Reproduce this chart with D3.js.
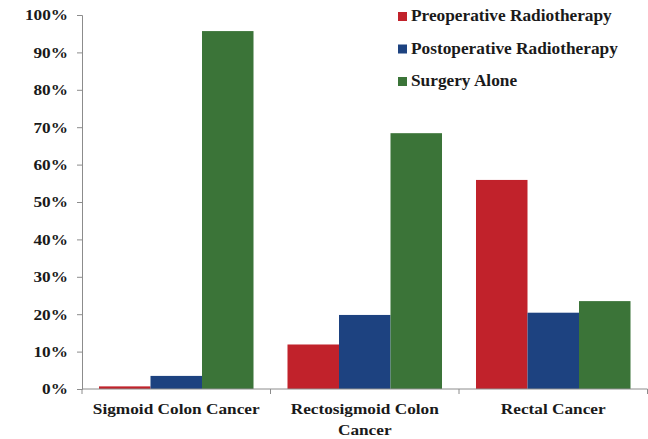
<!DOCTYPE html>
<html>
<head>
<meta charset="utf-8">
<script src="https://cdn.jsdelivr.net/npm/d3@7"></script>
<style>
  html, body { margin: 0; padding: 0; background: #fff; }
  svg { display: block; }
</style>
</head>
<body>
<svg id="chart" width="648" height="439"></svg>
<script>
// Share of patients by treatment approach, per tumour site
const categories = ["Sigmoid Colon Cancer", "Rectosigmoid Colon Cancer", "Rectal Cancer"];
const categoryLines = [["Sigmoid Colon Cancer"], ["Rectosigmoid Colon", "Cancer"], ["Rectal Cancer"]];
const seriesNames = ["Preoperative Radiotherapy", "Postoperative Radiotherapy", "Surgery Alone"];
const preoperative = [0.7, 11.9, 55.9];
const postoperative = [3.5, 19.8, 20.4];
const surgeryAlone = [95.7, 68.4, 23.5];
const yTicks = [0, 10, 20, 30, 40, 50, 60, 70, 80, 90, 100];
const colors = ["#C1222B", "#1D4280", "#3B7438"];

const seriesValues = [preoperative, postoperative, surgeryAlone];
const FONT = "'Liberation Serif', 'Times New Roman', Tinos, serif";
const TEXT_COLOR = "#1a1a1a";
const AXIS_COLOR = "#8c8c8c";

// Bold serif text, slightly widened horizontally
function styleText(sel, size, stretch) {
  sel.style("font-family", FONT)
    .style("font-weight", "bold")
    .style("font-size", size + "px")
    .attr("fill", TEXT_COLOR);
  sel.each(function () {
    const w = this.getComputedTextLength();
    if (w > 0) {
      d3.select(this).attr("textLength", w * stretch).attr("lengthAdjust", "spacingAndGlyphs");
    }
  });
}

const svg = d3.select("#chart");
const margin = { left: 82, top: 15, right: 0.5 };
const plotW = 648 - margin.left - margin.right;
const plotH = 389 - margin.top;

const g = svg.append("g").attr("transform", `translate(${margin.left},${margin.top})`);

const x0 = d3.scaleBand().domain(categories).range([0, plotW]).paddingInner(0).paddingOuter(0);
const x1 = d3.scaleBand().domain(seriesNames).range([0, x0.bandwidth()]).paddingInner(0).paddingOuter(0.33);
const y = d3.scaleLinear().domain([0, 100]).range([plotH, 0]);

// Bars
categories.forEach((cat, ci) => {
  const grp = g.append("g").attr("transform", `translate(${x0(cat)},0)`);
  seriesNames.forEach((s, si) => {
    const v = seriesValues[si][ci];
    grp.append("rect")
      .attr("x", x1(s))
      .attr("y", y(v))
      .attr("width", x1.bandwidth())
      .attr("height", y(0) - y(v))
      .attr("fill", colors[si]);
  });
});

// Y axis
const yAxis = d3.axisLeft(y).tickValues(yTicks).tickFormat(d => d + "%").tickSize(5).tickPadding(9);
const yg = g.append("g").call(yAxis);
yg.select(".domain").attr("stroke", AXIS_COLOR);
yg.selectAll(".tick line").attr("stroke", AXIS_COLOR);
yg.selectAll(".tick text").call(styleText, 15, 1.15);

// X axis baseline with category dividers
const xg = g.append("g").attr("transform", `translate(0,${plotH})`);
xg.append("line").attr("x1", 0).attr("x2", plotW).attr("y1", 0).attr("y2", 0).attr("stroke", AXIS_COLOR);
const dividers = [0].concat(categories.map(c => x0(c) + x0.bandwidth()));
xg.selectAll("line.div").data(dividers).enter().append("line")
  .attr("class", "div")
  .attr("x1", d => d).attr("x2", d => d).attr("y1", 0).attr("y2", 5)
  .attr("stroke", AXIS_COLOR);

// Category labels
categories.forEach((cat, ci) => {
  const cx = x0(cat) + x0.bandwidth() / 2;
  categoryLines[ci].forEach((line, li) => {
    xg.append("text")
      .attr("x", cx)
      .attr("y", 25 + li * 21)
      .attr("text-anchor", "middle")
      .text(line)
      .call(styleText, 15, 1.15);
  });
});

// Legend
const legend = svg.append("g").attr("transform", "translate(398,0)");
seriesNames.forEach((s, i) => {
  const row = legend.append("g").attr("transform", `translate(0,${16.5 + i * 32.5})`);
  row.append("rect").attr("x", 0).attr("y", -4.5).attr("width", 9).attr("height", 9).attr("fill", colors[i]);
  row.append("text").attr("x", 13).attr("y", 4.5).text(s).call(styleText, 16, 1.08);
});
</script>
</body>
</html>
